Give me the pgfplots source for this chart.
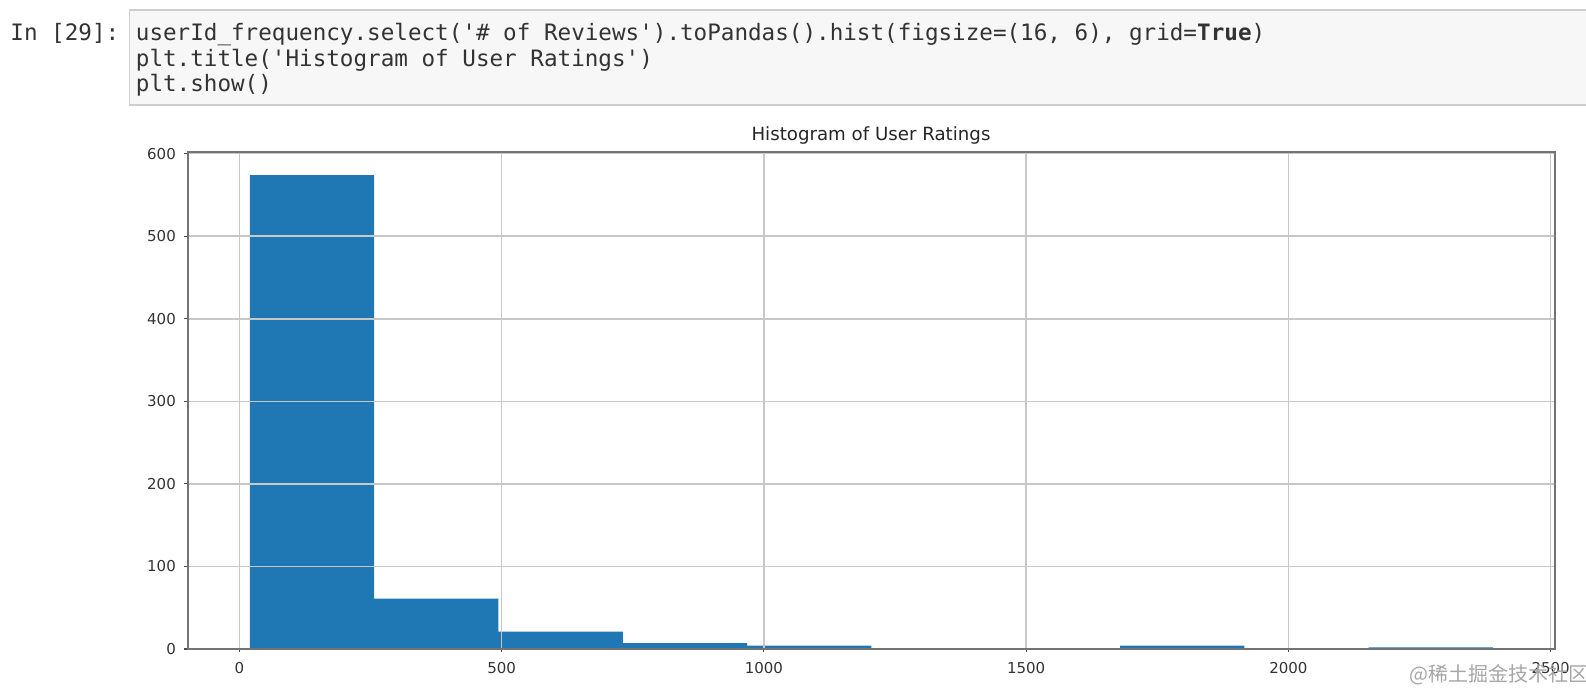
\documentclass[border=0pt]{standalone}
\usepackage{fontspec}
\setmainfont{DejaVu Sans}
\setmonofont{DejaVu Sans Mono}
\newfontfamily\cjk{Noto Sans CJK SC}
\usepackage{pgfplots}
\pgfplotsset{compat=1.18}
\definecolor{mplblue}{HTML}{1F77B4}
\definecolor{cellbg}{HTML}{F7F7F7}
\definecolor{cellborder}{HTML}{CFCFCF}

\begin{document}
\begin{tikzpicture}
\path[use as bounding box] (0,0) rectangle (793pt,345pt);

% notebook code cell
\draw[cellborder, fill=cellbg, line width=0.6pt] (64.75pt,292.5pt) rectangle (800pt,340pt);
\begin{scope}[every node/.style={anchor=base west, inner sep=0pt,
    font=\ttfamily\fontsize{11.3}{12}\selectfont, text=black!80}]
  \node at (5pt,324.6pt) {In [29]:};
  \node at (67.75pt,324.6pt) {userId\_frequency.select('\# of Reviews').toPandas().hist(figsize=(16, 6), grid=\textbf{True})};
  \node at (67.75pt,311.6pt) {plt.title('Histogram of User Ratings')};
  \node at (67.75pt,299.3pt) {plt.show()};
\end{scope}

\begin{axis}[
    at={(93.85pt,20.5pt)}, anchor=south west,
    scale only axis, width=683.7pt, height=248.5pt,
    xmin=-98.5, xmax=2508.5, ymin=0, ymax=602,
    xtick={0,500,...,2500}, ytick={0,100,...,600},
    xtick pos=bottom, ytick pos=left,
    grid=major, grid style={black!22, line width=0.8pt},
    axis on top,
    axis line style={black!55, line width=1.1pt},
    tick align=outside, major tick length=1.75pt,
    tick style={black!70, line width=0.6pt},
    tick label style={font=\fontsize{7.5}{9}\selectfont, text=black!80},
    xticklabel style={inner sep=0pt, anchor=north, yshift=-4.5pt},
    yticklabel style={inner sep=0pt, anchor=east, xshift=-4pt},
    /pgf/number format/1000 sep={},
    /pgf/number format/assume math mode=true,
]
  % histogram counts, 10 bins of width 237 starting at 20
  \addplot[const plot, fill=mplblue, draw=none] coordinates {
    (20,574) (257,61) (494,21) (731,7) (968,4) (1205,1)
    (1442,1) (1679,4) (1916,0) (2153,2) (2390,2)
  } \closedcycle;
\end{axis}

\node[anchor=base, inner sep=0pt, font=\fontsize{9.1}{11}\selectfont, text=black!85]
  at (435.5pt,274.5pt) {Histogram of User Ratings};
\node[inner sep=0pt, font=\cjk\fontsize{10}{12}\selectfont, text=black!35]
  at (749.5pt,7.5pt) {@稀土掘金技术社区};
\end{tikzpicture}
\end{document}
